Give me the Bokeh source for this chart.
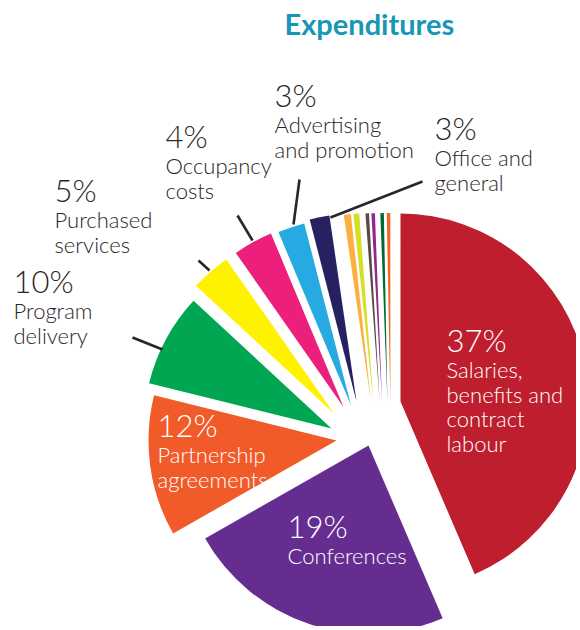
import math
from bokeh.plotting import figure
from bokeh.models import Range1d, ColumnDataSource
from bokeh.embed import file_html
from bokeh.resources import INLINE
from bokeh.core.properties import value

# ---------------- data ----------------
title_text = "Expenditures"

categories = [
    "Salaries, benefits and contract labour",
    "Conferences",
    "Partnership agreements",
    "Program delivery",
    "Purchased services",
    "Occupancy costs",
    "Advertising and promotion",
    "Office and general",
    "Other (unlabelled) 1",
    "Other (unlabelled) 2",
    "Other (unlabelled) 3",
    "Other (unlabelled) 4",
    "Other (unlabelled) 5",
    "Other (unlabelled) 6",
]

# printed percentages
pct_labels = ["37%", "19%", "12%", "10%", "5%", "4%", "3%", "3%", "", "", "", "", "", ""]

# slice sizes as drawn in the reference (percent of the full circle;
# the reference artwork is not drawn exactly to the printed numbers)
slice_share = [43.5, 23.2, 12.1, 8.0, 3.4, 3.4, 2.3, 1.7, 0.6, 0.5, 0.3, 0.3, 0.3, 0.3]

name_lines = [
    ["Salaries,", "benefits and", "contract", "labour"],
    ["Conferences"],
    ["Partnership", "agreements"],
    ["Program", "delivery"],
    ["Purchased", "services"],
    ["Occupancy", "costs"],
    ["Advertising", "and promotion"],
    ["Office and", "general"],
]

# ---------------- styles / layout ----------------
colors = ["#BE1E2D", "#662D91", "#F15A29", "#00A651", "#FFF200", "#EC1F7B",
          "#27AAE1", "#262262", "#FBB040", "#D7DF23", "#594A42", "#92278F",
          "#006838", "#F26522"]

W, H = 576, 626          # figure size in px
REF_H = 630              # reference picture height (y flip)
CX, CY = 370, 420        # pie centre (reference pixels, y down)
R = 188                  # radius
# explode offsets of each slice (reference pixels, y down)
explode_dx = [30, -2, -34, -39, -36.5, -27, -19.5, -14, 0.4, 2.9, 9.1, 11.5, 16.9, 19.8]
explode_dy = [-19, 25, 20, 8, -7, -13.5, -15, -19, -19.5, -19.5, -19.5, -19.5, -19.5, -19.5]

# label layout: (left x, baseline of percentage)
label_pos = [(446, 352), (287, 538), (157, 437), (13, 293), (54, 202),
             (165, 148), (274, 107), (434, 140)]
label_inside = [True, True, True, False, False, False, False, False]
NAME_GAP, LINE_STEP = 26, 24.6
PCT_SIZE, NAME_SIZE, TITLE_SIZE = 31, 22, 29
BASE_FIX = 0.4           # em shift so the glyph baseline lands on the wanted baseline

# leader lines (reference pixels): x0, y0, x1, y1
leaders = [(132, 337, 162, 349), (198, 260, 209, 270), (237, 215, 252, 240),
           (299, 179, 293, 224), (422, 181, 330, 217)]

DARK = "#2A2627"
PCT_FONT = value("Lato Light, Lato")
NAME_FONT = value("Lato Light, Lato")

def fy(y):
    return REF_H - y

def fb(baseline, size):
    return fy(baseline - BASE_FIX * size)

# ---------------- geometry from the data ----------------
total = sum(slice_share)
starts, ends = [], []
acc = 0.0
for s in slice_share:
    th1 = acc / total * 360.0
    acc += s
    th2 = acc / total * 360.0
    # clockwise-from-top -> bokeh (anticlockwise from +x)
    starts.append(math.radians(90.0 - th2))
    ends.append(math.radians(90.0 - th1))

wedge_src = ColumnDataSource(dict(
    x=[CX + dx for dx in explode_dx],
    y=[fy(CY + dy) for dy in explode_dy],
    start=starts, end=ends, color=colors, name=categories,
))

p = figure(width=W, height=H, x_range=Range1d(0, W), y_range=Range1d(REF_H - H, REF_H),
           output_backend="svg", toolbar_location=None,
           x_axis_location=None, y_axis_location=None, min_border=0)
p.grid.visible = False
p.outline_line_color = None
p.background_fill_color = "white"
p.border_fill_color = "white"

p.wedge(x="x", y="y", radius=R, start_angle="start", end_angle="end",
        direction="anticlock", fill_color="color", line_color=None, source=wedge_src)

# leader lines
p.segment(x0=[l[0] for l in leaders], y0=[fy(l[1]) for l in leaders],
          x1=[l[2] for l in leaders], y1=[fy(l[3]) for l in leaders],
          line_color=DARK, line_width=2.6)

# labels
px, py, pt, pc = [], [], [], []
nx, ny, nt, nc = [], [], [], []
for i, (pos, lines) in enumerate(zip(label_pos, name_lines)):
    col = "white" if label_inside[i] else DARK
    px.append(pos[0]); py.append(fb(pos[1], PCT_SIZE)); pt.append(pct_labels[i]); pc.append(col)
    for j, ln in enumerate(lines):
        nx.append(pos[0]); ny.append(fb(pos[1] + NAME_GAP + LINE_STEP * j, NAME_SIZE))
        nt.append(ln); nc.append(col)

p.text(x="x", y="y", text="t", text_color="c", source=ColumnDataSource(dict(x=px, y=py, t=pt, c=pc)),
       text_font=PCT_FONT, text_font_size=f"{PCT_SIZE}px", text_baseline="alphabetic", text_align="left")
p.text(x="x", y="y", text="t", text_color="c", source=ColumnDataSource(dict(x=nx, y=ny, t=nt, c=nc)),
       text_font=NAME_FONT, text_font_size=f"{NAME_SIZE}px", text_baseline="alphabetic", text_align="left")

# title
p.text(x=[284], y=[fb(35, TITLE_SIZE)], text=[title_text], text_color="#1796B6", text_font=value("Lato"),
       text_font_style="bold", text_font_size=f"{TITLE_SIZE}px", text_baseline="alphabetic", text_align="left")

open("out.html", "w").write(file_html(p, INLINE))
